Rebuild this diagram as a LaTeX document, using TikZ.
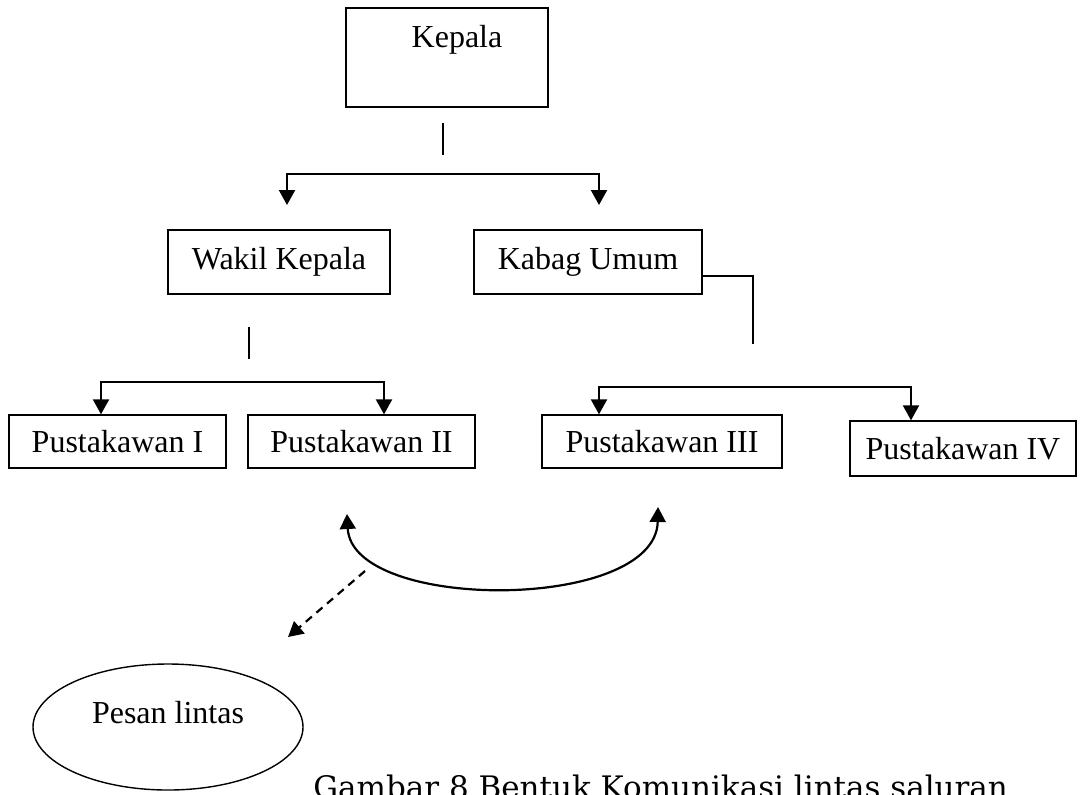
\documentclass[tikz,border=0pt]{standalone}
\usepackage{fontspec}
\setmainfont{Liberation Serif}
\newfontfamily\captionfont{DejaVu Serif}
\usetikzlibrary{arrows.meta,shapes.geometric}

\tikzset{
  box/.style={draw, rectangle, line width=0.7pt, inner sep=0pt},
  stub/.style={line width=0.8pt},
  fork/.style={line width=1.1pt, {Triangle[length=7.5pt,width=8pt]}-{Triangle[length=7.5pt,width=8pt]}},
  link/.style={line width=1.1pt, -{Triangle[length=7.5pt,width=8pt]}}
}

\begin{document}
\begin{tikzpicture}[x=0.5pt,y=-0.5pt,font=\fontsize{16}{19}\selectfont]
    \useasboundingbox (0,0) rectangle (1090,794);

    \node (kepala) [box, minimum width=101pt, minimum height=49.5pt, text depth=21.5pt] at (447,57.5) {\hspace*{10pt}Kepala};

    \node (wakil) [box, minimum width=111pt, minimum height=32pt] at (279,262) {Wakil Kepala};
    \node (kabag) [box, minimum width=114pt, minimum height=32pt] at (588,262) {Kabag Umum};

    \node (pus1) [box, minimum width=108.5pt, minimum height=26.5pt] at (117.5,441.5) {Pustakawan I};
    \node (pus2) [box, minimum width=113.5pt, minimum height=26.5pt] at (361.5,441.5) {Pustakawan II};
    \node (pus3) [box, minimum width=120pt, minimum height=26.5pt] at (662,441.5) {Pustakawan III};
    \node (pus4) [box, minimum width=113pt, minimum height=27.5pt] at (963,448.5) {Pustakawan IV};

    \node (pesan) [draw, ellipse, line width=0.7pt, inner sep=0pt, minimum width=135pt, minimum height=63pt, text depth=15pt] at (168,727) {Pesan lintas};

    \node (judul) [anchor=base west, inner sep=0pt, font=\captionfont\fontsize{15.5}{18}\selectfont] at (313,798) {Gambar 8 Bentuk Komunikasi lintas saluran};

    \coordinate (kstubtop) at (443,123);
    \coordinate (kstubend) at (443,155);
    \coordinate (kforkl) at (287,205);
    \coordinate (kforkm) at (443,174);
    \coordinate (kforkr) at (599,205);
    \draw[stub] (kstubtop) -- (kstubend);
    \draw[fork] (kforkl) |- (kforkm) -| (kforkr);

    \coordinate (wstubtop) at (249,327);
    \coordinate (wstubend) at (249,359);
    \coordinate (wforkl) at (101,0);
    \coordinate (wforkm) at (249,382);
    \coordinate (wforkr) at (384,0);
    \draw[stub] (wstubtop) -- (wstubend);
    \draw[fork] (pus1.north -| wforkl) |- (wforkm) -| (pus2.north -| wforkr);

    \coordinate (kbjoin) at (753,276);
    \coordinate (kbend) at (753,344);
    \coordinate (pforkl) at (599,0);
    \coordinate (pforkm) at (753,387);
    \coordinate (pforkr) at (911,0);
    \draw[stub] (kabag.east |- kbjoin) -- (kbjoin) -- (kbend);
    \draw[fork] (pus3.north -| pforkl) |- (pforkm) -| (pus4.north -| pforkr);

    \coordinate (swapl) at (347,514);
    \coordinate (swapr) at (658,507);
    \draw[fork] (swapl) .. controls (352,612) and (656,612) .. (swapr);

    \coordinate (passs) at (365,571);
    \coordinate (passe) at (288,637);
    \draw[link, dash pattern=on 4pt off 3pt] (passs) -- (passe);
\end{tikzpicture}
\end{document}
